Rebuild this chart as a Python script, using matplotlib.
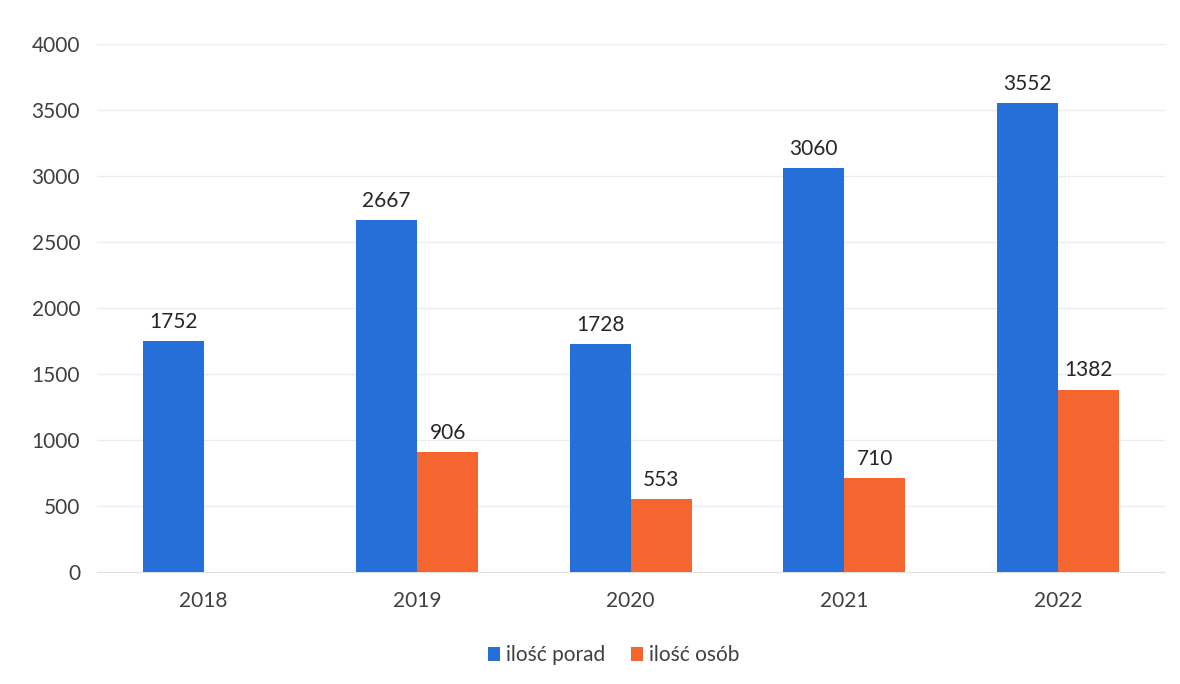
import numpy as np
import matplotlib.pyplot as plt

plt.rcParams["font.family"] = ["Lato", "DejaVu Sans"]

lata = ["2018", "2019", "2020", "2021", "2022"]
ilosc_porad = [1752, 2667, 1728, 3060, 3552]
ilosc_osob = [np.nan, 906, 553, 710, 1382]

kolor_porad = "#2470d8"
kolor_osob = "#f4652f"

fig = plt.figure(figsize=(11.8, 6.84), dpi=100)
ax = fig.add_axes([0.082, 0.1637, 0.905, 0.772])

x = np.arange(len(lata))
szer = 0.285

b1 = ax.bar(x - szer / 2, ilosc_porad, szer, color=kolor_porad, label="ilość porad", zorder=3)
b2 = ax.bar(x + szer / 2, ilosc_osob, szer, color=kolor_osob, label="ilość osób", zorder=3)

# etykiety nad słupkami
for xi, v in zip(x - szer / 2, ilosc_porad):
    ax.text(xi, v + 70, f"{v}", ha="center", va="bottom", fontsize=15, color="#262626")
for xi, v in zip(x + szer / 2, ilosc_osob):
    if not np.isnan(v):
        ax.text(xi, v + 70, f"{int(v)}", ha="center", va="bottom", fontsize=15, color="#262626")

ax.set_xlim(-0.5, len(lata) - 0.5)
ax.set_ylim(0, 4000)
ax.set_yticks(np.arange(0, 4001, 500))
ax.set_xticks(x)
ax.set_xticklabels(lata)
ax.tick_params(axis="both", length=0, labelsize=15, colors="#404040")
ax.tick_params(axis="y", pad=12)
ax.tick_params(axis="x", pad=14)

ax.grid(axis="y", color="#ececec", linewidth=1, zorder=0)
for s in ["top", "right", "left"]:
    ax.spines[s].set_visible(False)
ax.spines["bottom"].set_color("#e0e0e0")

fig.legend(handles=[b1, b2], loc="center", bbox_to_anchor=(0.52, 0.042), ncol=2,
           frameon=False, fontsize=15, handlelength=0.6, handleheight=0.6,
           handletextpad=0.3, columnspacing=1.2, labelcolor="#404040")

fig.savefig("out.png", dpi=100)
